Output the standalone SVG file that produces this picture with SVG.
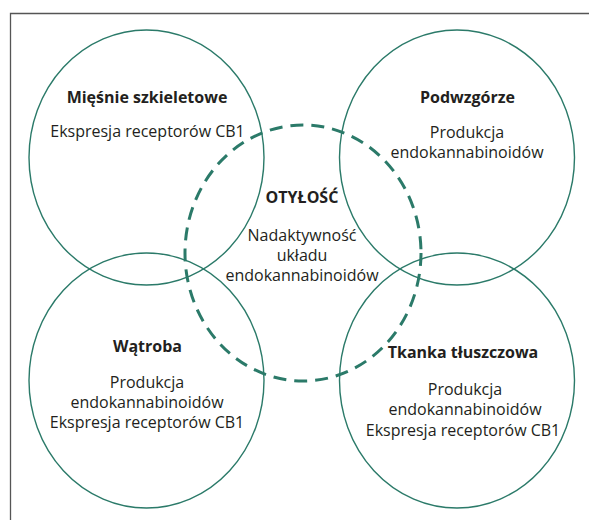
<svg xmlns="http://www.w3.org/2000/svg" width="589" height="520" viewBox="0 0 589 520">
<style>
.c{fill:none;stroke:#2b7a69;stroke-width:1.4}
.d{fill:none;stroke:#2b7a69;stroke-width:3;stroke-dasharray:13 8}
text{font-family:"Open Sans","Noto Sans",sans-serif;fill:#231f20;text-anchor:middle;font-size:16px}
.b{font-weight:bold}
.f{fill:none;stroke:#555;stroke-width:1.3}
</style>
<rect width="589" height="520" fill="#fff"/>
<path class="f" d="M10.5 520V13.5H589"/>
<g id="miesnie">
<ellipse class="c" cx="146.5" cy="157.5" rx="117.5" ry="127.5"/>
<text class="b" x="147" y="103">Mięśnie szkieletowe</text>
<text x="147.5" y="137">Ekspresja receptorów CB1</text>
</g>
<g id="podwzgorze">
<ellipse class="c" cx="457" cy="157.5" rx="117.5" ry="127.5"/>
<text class="b" x="467.5" y="103">Podwzgórze</text>
<text x="467" y="138">Produkcja</text>
<text x="467" y="158">endokannabinoidów</text>
</g>
<g id="watroba">
<ellipse class="c" cx="146.5" cy="380.5" rx="117.5" ry="127.5"/>
<text class="b" x="147.5" y="352">Wątroba</text>
<text x="147" y="388">Produkcja</text>
<text x="147" y="408">endokannabinoidów</text>
<text x="147" y="428">Ekspresja receptorów CB1</text>
</g>
<g id="tkanka">
<ellipse class="c" cx="457" cy="380.5" rx="117.5" ry="127.5"/>
<text class="b" x="463" y="358">Tkanka tłuszczowa</text>
<text x="465" y="395">Produkcja</text>
<text x="465" y="415">endokannabinoidów</text>
<text x="463" y="436">Ekspresja receptorów CB1</text>
</g>
<g id="otylosc">
<ellipse class="d" cx="303" cy="253" rx="118" ry="128"/>
<text class="b" x="302" y="203">OTYŁOŚĆ</text>
<text x="302" y="241">Nadaktywność</text>
<text x="302" y="261">układu</text>
<text x="302" y="281">endokannabinoidów</text>
</g>
<g id="connectors"></g>
</svg>
